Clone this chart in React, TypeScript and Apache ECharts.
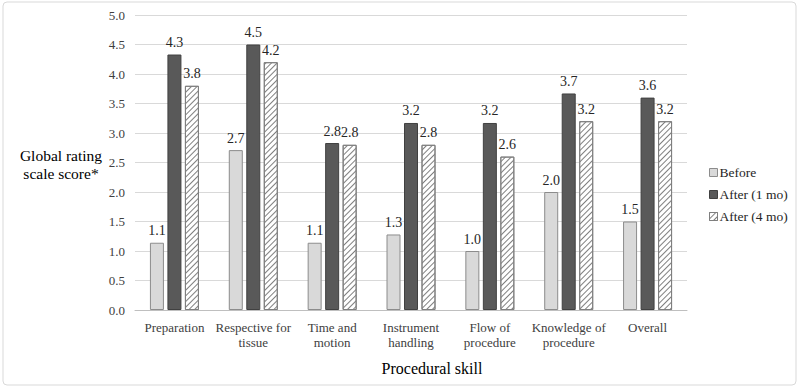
import React, { useEffect, useRef } from "react";
import * as echarts from "echarts";

const categories = [
  "Preparation",
  "Respective for\ntissue",
  "Time and\nmotion",
  "Instrument\nhandling",
  "Flow of\nprocedure",
  "Knowledge of\nprocedure",
  "Overall",
];
const before = [1.14, 2.71, 1.14, 1.28, 1.0, 2.0, 1.5];
const after1mo = [4.33, 4.5, 2.83, 3.17, 3.17, 3.67, 3.6];
const after4mo = [3.8, 4.2, 2.8, 2.8, 2.6, 3.2, 3.2];
const seriesNames = ["Before", "After (1 mo)", "After (4 mo)"];

const FONT = "Times New Roman, Liberation Serif, DejaVu Serif, serif";

export default function App() {
  const ref = useRef<HTMLDivElement>(null);

  useEffect(() => {
    if (!ref.current) return;
    const chart = echarts.init(ref.current, null, { renderer: "svg" });
    const label = {
      show: true,
      position: "top" as const,
      distance: 5,
      fontFamily: FONT,
      fontSize: 14,
      color: "#262626",
      formatter: (p: any) => Number(p.value).toFixed(1),
    };
    chart.setOption({
      animation: false,
      backgroundColor: "#ffffff",
      textStyle: { fontFamily: FONT },
      grid: { left: 135, right: 113, top: 15, bottom: 79, containLabel: false },
      legend: {
        orient: "vertical",
        left: 704,
        top: 160,
        itemWidth: 8,
        itemHeight: 8,
        itemGap: 7,
        itemStyle: { borderWidth: 1 },
        icon: "rect",
        textStyle: {
          fontFamily: FONT,
          fontSize: 13.5,
          lineHeight: 15,
          color: "#262626",
          padding: [0, 0, 0, -3],
        },
        data: seriesNames,
      },
      xAxis: {
        type: "category",
        data: categories,
        axisLine: { lineStyle: { color: "#bfbfbf", width: 1 } },
        axisTick: { show: false },
        axisLabel: {
          interval: 0,
          margin: 10,
          fontFamily: FONT,
          fontSize: 13,
          lineHeight: 15,
          color: "#404040",
        },
      },
      yAxis: {
        type: "value",
        min: 0,
        max: 5,
        interval: 0.5,
        axisLine: { show: false },
        axisTick: { show: false },
        splitLine: { lineStyle: { color: "#d9d9d9", width: 1 } },
        axisLabel: {
          margin: 10,
          fontFamily: FONT,
          fontSize: 13,
          color: "#404040",
          formatter: (v: number) => v.toFixed(1),
        },
      },
      series: [
        {
          name: seriesNames[0],
          type: "bar",
          data: before,
          barWidth: 14,
          barGap: "25%",
          itemStyle: { color: "#d9d9d9", borderColor: "#8c8c8c", borderWidth: 1 },
          label,
        },
        {
          name: seriesNames[1],
          type: "bar",
          data: after1mo,
          barWidth: 14,
          barGap: "25%",
          itemStyle: { color: "#595959", borderColor: "#404040", borderWidth: 1 },
          label,
        },
        {
          name: seriesNames[2],
          type: "bar",
          data: after4mo,
          barWidth: 14,
          barGap: "25%",
          itemStyle: {
            color: "#ffffff",
            borderColor: "#7f7f7f",
            borderWidth: 1,
            decal: {
              symbol: "rect",
              symbolSize: 1,
              color: "#7f7f7f",
              dashArrayX: [1, 0],
              dashArrayY: [1, 3],
              rotation: -Math.PI / 4,
            },
          },
          label,
        },
      ],
      graphic: [
        {
          type: "rect",
          shape: { x: 3, y: 2, width: 793, height: 383, r: 4 },
          style: { fill: "none", stroke: "#d9d9d9", lineWidth: 1 },
          silent: true,
        },
        {
          type: "text",
          x: 61,
          y: 164,
          style: {
            text: "Global rating\nscale score*",
            fontFamily: FONT,
            fontSize: 15.5,
            lineHeight: 18,
            fill: "#000000",
            align: "center",
            verticalAlign: "middle",
          },
        },
        {
          type: "text",
          x: 432,
          y: 368,
          style: {
            text: "Procedural skill",
            fontFamily: FONT,
            fontSize: 16,
            fill: "#000000",
            align: "center",
            verticalAlign: "middle",
          },
        },
      ],
    });
    return () => chart.dispose();
  }, []);

  return (
    <div
      ref={ref}
      style={{ position: "fixed", left: 0, top: 0, width: 800, height: 389 }}
    />
  );
}
